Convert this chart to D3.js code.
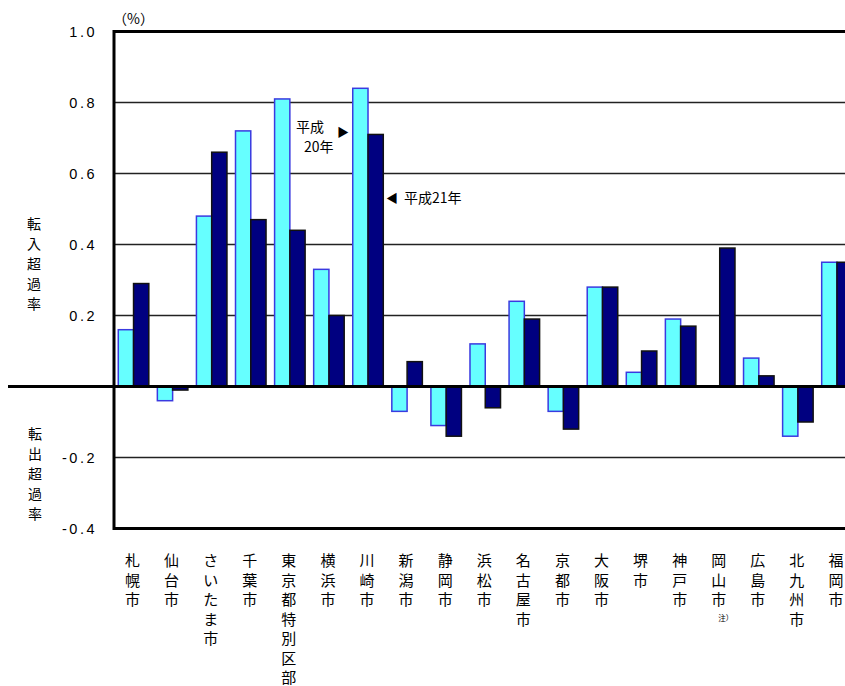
<!DOCTYPE html>
<html><head><meta charset="utf-8">
<script src="https://cdn.jsdelivr.net/npm/d3@7"></script>
<style>
html,body{margin:0;padding:0;background:#fff;}
svg{display:block;font-family:"Noto Sans CJK JP","Noto Sans",sans-serif;}
</style></head><body>
<svg id="c" width="845" height="686"></svg>
<script>
const categories = ["札幌市","仙台市","さいたま市","千葉市","東京都特別区部","横浜市","川崎市","新潟市","静岡市","浜松市","名古屋市","京都市","大阪市","堺市","神戸市","岡山市","広島市","北九州市","福岡市"];
const seriesNames = ["平成20年","平成21年"];
const h20 = [0.16,-0.04,0.48,0.72,0.81,0.33,0.84,-0.07,-0.11,0.12,0.24,-0.07,0.28,0.04,0.19,null,0.08,-0.14,0.35];
const h21 = [0.29,-0.01,0.66,0.47,0.44,0.20,0.71,0.07,-0.14,-0.06,0.19,-0.12,0.28,0.10,0.17,0.39,0.03,-0.10,0.35];
const tickValues = [1.0,0.8,0.6,0.4,0.2,-0.2,-0.4];
const tickLabels = ["1.0","0.8","0.6","0.4","0.2","-0.2","-0.4"];
const gridValues = [0.8,0.6,0.4,0.2,-0.2];

(function(){
const svg = d3.select("#c");
const pL = 114, pR = 856.5, pT = 31.5, pB = 528.5;
const x = d3.scaleBand().domain(categories).range([pL, pR]).padding(0);
const xs = d3.scaleBand().domain(seriesNames).range([0, x.bandwidth()]).paddingInner(0).paddingOuter(0.28);
const y = d3.scaleLinear().domain([-0.4, 1.0]).range([pB, pT]);

// gridlines
svg.append("g").selectAll("line").data(gridValues).join("line")
  .attr("x1", pL).attr("x2", 845).attr("y1", d=>y(d)).attr("y2", d=>y(d))
  .attr("stroke", "#222").attr("stroke-width", 1.4);

// bars
const rows = categories.map((c,i)=>({c, vals:[{s:seriesNames[0], v:h20[i]},{s:seriesNames[1], v:h21[i]}]}));
const colors = {"平成20年":{fill:"#66FFFF",stroke:"#3A3AE0"},"平成21年":{fill:"#000080",stroke:"#111"}};
const g = svg.append("g").selectAll("g").data(rows).join("g").attr("transform", d=>`translate(${x(d.c)},0)`);
g.selectAll("rect").data(d=>d.vals.filter(e=>e.v!==null)).join("rect")
  .attr("x", d=>xs(d.s)).attr("width", xs.bandwidth())
  .attr("y", d=>Math.min(y(d.v), y(0))).attr("height", d=>Math.abs(y(d.v)-y(0)))
  .attr("fill", d=>colors[d.s].fill).attr("stroke", d=>colors[d.s].stroke).attr("stroke-width", 1.5);

// frame
svg.append("line").attr("x1", pL).attr("x2", 845).attr("y1", pT).attr("y2", pT).attr("stroke","#000").attr("stroke-width",3);
svg.append("line").attr("x1", pL).attr("x2", 845).attr("y1", pB).attr("y2", pB).attr("stroke","#000").attr("stroke-width",3);
svg.append("line").attr("x1", pL).attr("x2", pL).attr("y1", pT-1.5).attr("y2", pB+1.5).attr("stroke","#000").attr("stroke-width",3);
svg.append("line").attr("x1", 8).attr("x2", 845).attr("y1", y(0)).attr("y2", y(0)).attr("stroke","#000").attr("stroke-width",3);

// y axis labels
const yAxis = d3.axisLeft(y).tickValues(tickValues).tickSize(0).tickPadding(17)
  .tickFormat((d,i)=>tickLabels[i]);
const ya = svg.append("g").attr("transform", `translate(${pL},0)`).call(yAxis);
ya.select(".domain").remove();
ya.selectAll("text").attr("font-size", 14.5).attr("fill","#000")
  .attr("font-family","\"Liberation Sans\",sans-serif").attr("letter-spacing", 2.5);

svg.append("text").attr("x", 113).attr("y", 24).attr("font-size", 14).text("（%）");

// vertical titles
function vtext(str, cx, y0, step, size){
  const t = svg.append("text").attr("font-size", size).attr("text-anchor","middle").attr("fill","#000");
  [...str].forEach((ch,i)=>t.append("tspan").attr("x", cx).attr("y", y0 + i*step).text(ch));
  return t;
}
vtext("転入超過率", 34, 229, 20, 14);
vtext("転出超過率", 35, 439, 20, 14);

// category labels
categories.forEach(c=>{
  vtext(c, x(c) + x.bandwidth()/2 - 1, 566, 19.5, 15);
});
svg.append("text").attr("x", x("岡山市")+x.bandwidth()/2+6).attr("y", 621).attr("font-size", 7.5).attr("text-anchor","middle").text("注）");

// annotations
svg.append("text").attr("x", 296).attr("y", 132).attr("font-size", 14).text("平成");
svg.append("text").attr("x", 304).attr("y", 152).attr("font-size", 14).text("20年");
svg.append("text").attr("x", 337).attr("y", 137).attr("font-size", 12).text("▶");
svg.append("text").attr("x", 386).attr("y", 203).attr("font-size", 12).text("◀");
svg.append("text").attr("x", 404).attr("y", 203).attr("font-size", 14).text("平成21年");
})();
</script>
</body></html>
